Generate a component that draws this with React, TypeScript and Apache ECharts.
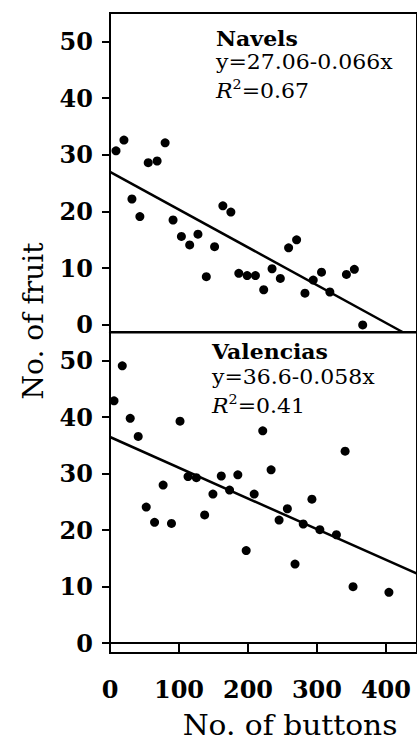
import React, { useEffect, useRef } from "react";
import * as echarts from "echarts";

const navelsButtons = [8.7, 20.2, 31.8, 43.3, 55.4, 68.3, 79.9, 91.4, 103.5, 115.5, 127.5, 139.6, 151.6, 163.6, 175.2, 186.7, 198.8, 210.8, 222.8, 234.9, 246.9, 258.9, 270.5, 282.6, 294.6, 306.6, 318.7, 342.7, 354.2, 366.3];
const navelsFruit = [30.7, 32.6, 22.2, 19.1, 28.6, 28.9, 32.1, 18.5, 15.6, 14.1, 16.0, 8.5, 13.8, 21.0, 19.9, 9.1, 8.7, 8.7, 6.2, 9.9, 8.2, 13.6, 15.0, 5.6, 7.9, 9.3, 5.8, 8.9, 9.8, 0];
const valenciasButtons = [5.8, 17.8, 29.3, 40.9, 52.5, 64.6, 77.0, 89.1, 101.5, 113.1, 125.2, 137.2, 149.2, 161.3, 173.3, 185.3, 197.4, 209.0, 221.4, 233.5, 245.1, 257.1, 268.2, 280.1, 292.7, 304.2, 328.2, 340.8, 352.3, 404.3];
const valenciasFruit = [42.9, 49.1, 39.8, 36.6, 24.1, 21.4, 28.0, 21.2, 39.3, 29.5, 29.3, 22.7, 26.4, 29.6, 27.1, 29.8, 16.4, 26.4, 37.6, 30.7, 21.8, 23.8, 14.0, 21.1, 25.5, 20.1, 19.2, 34.0, 10.0, 9.0];

const navelsFitX = [0, 424];
const navelsFitY = [27.0, -1.25];
const valenciasFitX = [0, 445];
const valenciasFitY = [36.5, 12.3];

const yTickValues = [0, 10, 20, 30, 40, 50];
const navelsLabel = ["Navels", "y=27.06-0.066x", "0.67"];
const valenciasLabel = ["Valencias", "y=36.6-0.058x", "0.41"];
const xTitle = "No. of buttons";
const yTitle = "No. of fruit";

const FONT = "DejaVu Serif";

function pairs(xs: number[], ys: number[]) {
  return xs.map((x, i) => [x, ys[i]]);
}

function yAxisCfg(gridIndex: number, min: number) {
  return {
    type: "value",
    gridIndex,
    min,
    max: 55,
    splitLine: { show: false },
    axisLine: { show: true, lineStyle: { color: "#000", width: 2 } },
    axisTick: {
      show: true,
      inside: false,
      length: 8,
      customValues: yTickValues,
      lineStyle: { color: "#000", width: 2 },
    },
    axisLabel: {
      show: true,
      customValues: yTickValues,
      margin: 17,
      color: "#000",
      fontFamily: FONT,
      fontWeight: "bold",
      fontSize: 24,
    },
  };
}

function annotation(lines: string[], left: number, mids: number[]) {
  const sx = 1.1;
  return [
    {
      type: "text",
      x: left,
      y: mids[0] - 12,
      scaleX: sx,
      style: {
        text: lines[0],
        fontFamily: FONT,
        fontSize: 20,
        fontWeight: "bold",
        fill: "#000",
      },
    },
    {
      type: "text",
      x: left,
      y: mids[1] - 12,
      scaleX: sx,
      style: {
        text: lines[1],
        fontFamily: FONT,
        fontSize: 20,
        fill: "#000",
      },
    },
    {
      type: "text",
      x: left,
      y: mids[2] - 14,
      scaleX: sx,
      style: {
        text: "{i|R}{s|2}{n|=" + lines[2] + "}",
        fontFamily: FONT,
        fontSize: 20,
        fill: "#000",
        rich: {
          i: { fontFamily: FONT, fontSize: 20, fontStyle: "italic", lineHeight: 26, fill: "#000" },
          s: { fontFamily: FONT, fontSize: 13, verticalAlign: "top", lineHeight: 13, fill: "#000" },
          n: { fontFamily: FONT, fontSize: 20, lineHeight: 26, fill: "#000" },
        },
      },
    },
  ];
}

export default function App() {
  const ref = useRef<HTMLDivElement>(null);
  useEffect(() => {
    if (!ref.current) return;
    const chart = echarts.init(ref.current, null, { renderer: "svg" });
    const option: any = {
      animation: false,
      backgroundColor: "#fff",
      grid: [
        { left: 110, top: 13, width: 308.2, height: 319, show: true, borderColor: "#000", borderWidth: 2, backgroundColor: "transparent" },
        { left: 110, top: 332.5, width: 308.2, height: 320.6, show: true, borderColor: "#000", borderWidth: 2, backgroundColor: "transparent" },
      ],
      xAxis: [
        {
          type: "value",
          gridIndex: 0,
          min: 0,
          max: 445,
          interval: 100,
          show: false,
          splitLine: { show: false },
        },
        {
          type: "value",
          gridIndex: 1,
          min: 0,
          max: 445,
          interval: 100,
          splitLine: { show: false },
          axisLine: { show: true, lineStyle: { color: "#000", width: 2 } },
          axisTick: { show: true, inside: false, length: 9, lineStyle: { color: "#000", width: 2 } },
          axisLabel: {
            show: true,
            margin: 24,
            color: "#000",
            fontFamily: FONT,
            fontWeight: "bold",
            fontSize: 24,
            showMaxLabel: false,
          },
        },
      ],
      yAxis: [yAxisCfg(0, -1.25), yAxisCfg(1, -1.75)],
      series: [
        {
          type: "scatter",
          xAxisIndex: 0,
          yAxisIndex: 0,
          data: pairs(navelsButtons, navelsFruit),
          symbolSize: 9,
          itemStyle: { color: "#000", opacity: 1 },
          clip: false,
        },
        {
          type: "line",
          xAxisIndex: 0,
          yAxisIndex: 0,
          data: pairs(navelsFitX, navelsFitY),
          symbol: "none",
          lineStyle: { color: "#000", width: 2.5 },
        },
        {
          type: "scatter",
          xAxisIndex: 1,
          yAxisIndex: 1,
          data: pairs(valenciasButtons, valenciasFruit),
          symbolSize: 9,
          itemStyle: { color: "#000", opacity: 1 },
          clip: false,
        },
        {
          type: "line",
          xAxisIndex: 1,
          yAxisIndex: 1,
          data: pairs(valenciasFitX, valenciasFitY),
          symbol: "none",
          lineStyle: { color: "#000", width: 2.5 },
        },
      ],
      graphic: [
        ...annotation(navelsLabel, 216, [41, 64, 92]),
        ...annotation(valenciasLabel, 212, [354, 379, 407]),
        {
          type: "text",
          x: 290,
          y: 726,
          scaleX: 1.1,
          style: {
            text: xTitle,
            fontFamily: FONT,
            fontSize: 27,
            fill: "#000",
            align: "center",
            verticalAlign: "middle",
          },
        },
        {
          type: "text",
          x: 33,
          y: 321,
          rotation: Math.PI / 2,
          style: {
            text: yTitle,
            fontFamily: FONT,
            fontSize: 28,
            fill: "#000",
            align: "center",
            verticalAlign: "middle",
          },
        },
      ],
    };
    chart.setOption(option);
    return () => chart.dispose();
  }, []);
  return (
    <div
      ref={ref}
      style={{ position: "absolute", left: 0, top: 0, width: 417, height: 743, overflow: "hidden", background: "#fff" }}
    />
  );
}
